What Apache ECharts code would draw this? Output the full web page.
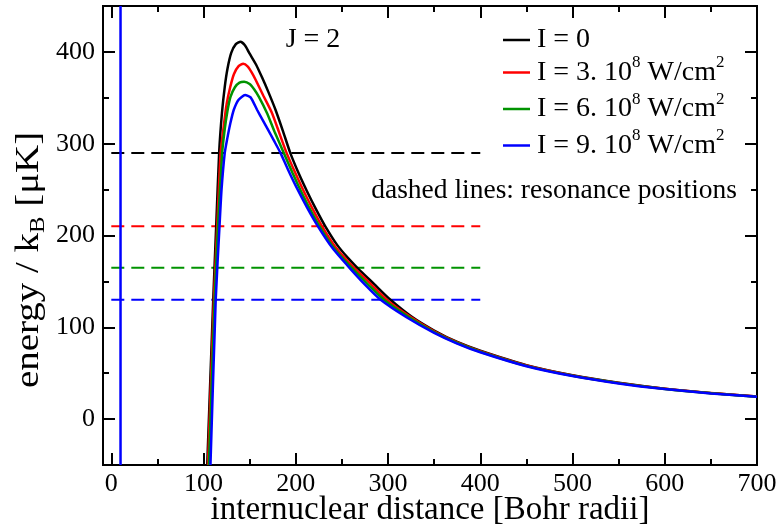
<!DOCTYPE html>
<html>
<head>
<meta charset="utf-8">
<script src="https://cdn.jsdelivr.net/npm/echarts@6/dist/echarts.min.js"></script>
<style>
html, body { margin: 0; padding: 0; background: #ffffff; }
#chart { width: 781px; height: 531px; }
</style>
</head>
<body>
<div id="chart"></div>
<script>
// Effective potential curves, J = 2, for four laser intensities: [distance (a0), energy (uK)]
const curveI0 = [
  [104, -50], [110.5, 130], [113.7, 210], [117, 292], [120, 334], [123, 362], [126, 382],
  [130, 399], [135, 408.5], [140, 411], [145, 407], [150, 398], [157, 386], [163.5, 372],
  [170, 357], [178, 337], [186, 314], [194, 290], [203, 268], [212, 248.5], [222, 228.5],
  [232, 210], [245, 189.5], [257, 175], [267, 164.5], [285, 147], [302, 130.5], [325, 112],
  [350, 96.5], [375, 84], [400, 74.5], [450, 58.8], [500, 47.8], [550, 39.6], [600, 33.2],
  [650, 28.4], [700, 24.6]
];
const curveI3 = [
  [104.8, -50], [111.2, 130], [114.8, 210], [118.5, 290], [122, 320], [125, 343], [129, 362],
  [133, 376], [138, 384.5], [143, 387], [148, 384], [152, 378], [156.3, 370], [165, 352],
  [174.4, 333], [182, 312], [190, 290], [199.5, 268], [208.5, 248.5], [218.5, 228.5],
  [228.5, 210], [241.5, 189.5], [253.5, 175], [263.5, 164.5], [281.5, 147], [298.5, 130],
  [325, 110.8], [350, 95.7], [375, 83.5], [400, 73.9], [450, 58.4], [500, 47.5], [550, 39.4],
  [600, 33.0], [650, 28.3], [700, 24.5]
];
const curveI6 = [
  [105.8, -50], [112, 130], [115.6, 210], [120.2, 290], [123, 316], [126, 336], [129.2, 351],
  [134, 361.5], [139, 366.5], [144, 367.5], [150, 365], [155, 359], [160, 351], [169, 333],
  [177, 313], [187, 290], [196.5, 268], [205.5, 248.5], [215.5, 228.5], [225.8, 210],
  [239, 189.5], [251, 175], [261, 164.5], [279, 146], [295.5, 130], [325, 109.5], [350, 94.8],
  [375, 82.9], [400, 73.4], [450, 58.0], [500, 47.2], [550, 39.2], [600, 32.9], [650, 28.2],
  [700, 24.4]
];
const curveI9 = [
  [107.5, -50], [113.2, 130], [117.3, 210], [119.5, 250], [123, 290], [125.6, 305], [129, 322],
  [132.8, 337], [138, 348], [145, 353], [151, 350.5], [158, 337], [164, 326], [170, 315],
  [176.5, 303], [183.4, 290], [191, 273], [200, 254], [212, 231], [224, 210], [240, 186],
  [258, 165], [275, 146.5], [292, 130], [320, 111], [350, 94], [375, 82.3], [400, 72.8],
  [450, 57.6], [500, 46.9], [550, 38.9], [600, 32.7], [650, 28.0], [700, 24.3]
];

const seriesNames = ['I = 0', 'I = 3. 10^8 W/cm^2', 'I = 6. 10^8 W/cm^2', 'I = 9. 10^8 W/cm^2'];
const seriesColors = ['#000000', '#ff0000', '#009300', '#0000ff'];

// resonance energies (dashed), drawn over this distance span
const resonanceEnergy = [290, 210, 165, 130];
const resonanceSpan = [0, 400];

// vertical marker at short range
const wallPosition = 10;

// axes
const xRange = [-9, 700];
const yRange = [-50, 450];
const xMajorTicks = [0, 100, 200, 300, 400, 500, 600, 700];
const xMinorTicks = [50, 150, 250, 350, 450, 550, 650];
const yMajorTicks = [0, 100, 200, 300, 400];
const yMinorTicks = [50, 150, 250, 350];

const SERIF = '"Liberation Serif", "Times New Roman", serif';

function makeAxis(kind, position, ticks, tickLen, withLabels) {
  const range = kind === 'x' ? xRange : yRange;
  return {
    type: 'value',
    position: position,
    min: range[0],
    max: range[1],
    axisLine: { show: true, onZero: false, lineStyle: { color: '#000', width: 2 } },
    axisTick: { show: true, inside: true, length: tickLen, customValues: ticks,
                lineStyle: { color: '#000', width: 2 } },
    axisLabel: withLabels
      ? { show: true, customValues: ticks, fontFamily: SERIF, fontSize: 26, color: '#000',
          fontStyle: 'normal', fontWeight: 'normal',
          margin: kind === 'x' ? 6 : 8 }
      : { show: false },
    splitLine: { show: false },
    minorTick: { show: false },
    minorSplitLine: { show: false }
  };
}

// legend labels with superscripts as rich text
function legendRich(name) {
  if (name.indexOf('^') < 0) return '{p|' + name + '}';
  const m = name.match(/^(.*)\^(\S+) (.*)\^(\S+)$/);
  return '{m|' + m[1] + '}{s|' + m[2] + '}{m| ' + m[3] + '}{s|' + m[4] + '}';
}

// vertical centre of each legend row
const legendRowY = [40, 72.5, 109, 145.5];

const curves = [curveI0, curveI3, curveI6, curveI9];
const series = [];

resonanceEnergy.forEach((e, i) => {
  series.push({
    name: 'resonance ' + i,
    type: 'line',
    data: [[resonanceSpan[0], e], [resonanceSpan[1], e]],
    symbol: 'none',
    lineStyle: { color: seriesColors[i], width: 2, type: [13, 7] },
    silent: true, z: 2
  });
});

series.push({
  name: 'wall',
  type: 'line',
  data: [[wallPosition, yRange[0]], [wallPosition, yRange[1]]],
  symbol: 'none',
  lineStyle: { color: seriesColors[3], width: 2.5 },
  silent: true, z: 2
});

curves.forEach((d, i) => {
  series.push({
    name: seriesNames[i],
    type: 'line',
    data: d,
    symbol: 'none',
    showSymbol: false,
    smooth: 0.2,
    clip: true,
    lineStyle: { color: seriesColors[i], width: 2.5 },
    itemStyle: { color: seriesColors[i] },
    silent: true, z: 3 + i
  });
});

// one legend block per row so each row sits at its own height
const legends = seriesNames.map((name, i) => {
  const plain = name.indexOf('^') < 0;
  return {
    data: [name],
    orient: 'vertical',
    left: 503,
    top: legendRowY[i] - (plain ? 14 : 18),
    padding: 0,
    itemWidth: 27,
    itemHeight: 2.5,
    icon: 'rect',
    formatter: legendRich,
    selectedMode: false,
    textStyle: {
      color: '#000',
      fontFamily: SERIF,
      fontSize: 28,
      padding: [0, 0, 0, 2],
      rich: {
        p: { fontFamily: SERIF, fontSize: 28, lineHeight: 28, color: '#000' },
        m: { fontFamily: SERIF, fontSize: 28, lineHeight: 36, color: '#000' },
        s: { fontFamily: SERIF, fontSize: 17, lineHeight: 16, verticalAlign: 'top', color: '#000' }
      }
    }
  };
});

const chart = echarts.init(document.getElementById('chart'), null, { renderer: 'canvas' });
chart.setOption({
  animation: false,
  backgroundColor: '#ffffff',
  textStyle: { fontFamily: SERIF, color: '#000' },
  grid: { left: 103, top: 6, width: 654, height: 459, containLabel: false },
  xAxis: [
    makeAxis('x', 'bottom', xMajorTicks, 12, true),
    makeAxis('x', 'bottom', xMinorTicks, 6, false),
    makeAxis('x', 'top', xMajorTicks, 12, false),
    makeAxis('x', 'top', xMinorTicks, 6, false)
  ],
  yAxis: [
    makeAxis('y', 'left', yMajorTicks, 12, true),
    makeAxis('y', 'left', yMinorTicks, 6, false),
    makeAxis('y', 'right', yMajorTicks, 12, false),
    makeAxis('y', 'right', yMinorTicks, 6, false)
  ],
  legend: legends,
  graphic: [
    {
      type: 'text', z: 10,
      x: 430, y: 510,
      style: { text: 'internuclear distance [Bohr radii]', font: '33px "Liberation Serif"',
               fill: '#000', align: 'center', verticalAlign: 'middle' }
    },
    {
      type: 'text', z: 10,
      x: 29, y: 260,
      rotation: Math.PI / 2,
      scaleX: 1.18,
      style: {
        text: '{m|energy / k}{b|B}{m| [μK]}',
        align: 'center', verticalAlign: 'middle',
        rich: {
          m: { fontFamily: SERIF, fontSize: 33, lineHeight: 40, color: '#000' },
          b: { fontFamily: SERIF, fontSize: 21, lineHeight: 22, verticalAlign: 'bottom', color: '#000' }
        }
      }
    },
    {
      type: 'text', z: 10,
      x: 313, y: 40,
      style: { text: 'J = 2', font: '28px "Liberation Serif"', fill: '#000', align: 'center', verticalAlign: 'middle' }
    },
    {
      type: 'text', z: 10,
      x: 737, y: 191,
      style: { text: 'dashed lines: resonance positions', font: '27.5px "Liberation Serif"', fill: '#000',
               align: 'right', verticalAlign: 'middle' }
    }
  ],
  series: series
});
</script>
</body>
</html>
